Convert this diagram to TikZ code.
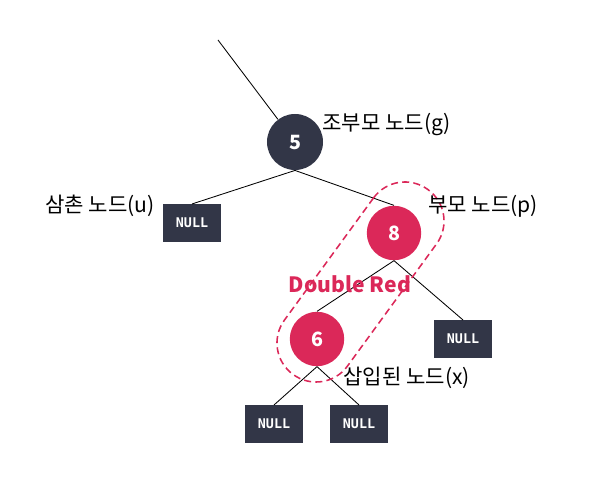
\documentclass[tikz,border=0pt]{standalone}
\usepackage{fontspec}
\setmainfont{Noto Sans CJK KR}
\newfontfamily\leaffont{DejaVu Sans Mono}
\usetikzlibrary{positioning}
\definecolor{navy}{HTML}{323647}
\definecolor{crimson}{HTML}{DB2859}
\tikzstyle{black node}=[circle, fill=navy, text=white, minimum size=1.4cm, inner sep=0pt, font=\bfseries\fontsize{14}{14}\selectfont]
\tikzstyle{red node}=[circle, fill=crimson, text=white, minimum size=1.36cm, inner sep=0pt, font=\bfseries\fontsize{14}{14}\selectfont]
\tikzstyle{null leaf}=[fill=navy, text=white, minimum width=1.46cm, minimum height=0.93cm, inner sep=0pt, font=\leaffont\bfseries\fontsize{9.5}{9.5}\selectfont]
\tikzstyle{label}=[font=\fontsize{15}{16}\selectfont, inner sep=0pt]

\begin{document}
\begin{tikzpicture}[x=0.025cm, y=-0.025cm, line width=0.6pt]
\useasboundingbox (0,0) rectangle (591,497);
% nodes
\node[black node] (g) at (295,142) {5};
\node[red node] (p) at (394,233) {8};
\node[red node] (x) at (317,339) {6};
\node[null leaf] (u) at (192,223) {NULL};
\node[null leaf] (pr) at (463,339) {NULL};
\node[null leaf] (xl) at (274,424) {NULL};
\node[null leaf] (xr) at (359,424) {NULL};
\coordinate (top) at (218,40);
% edges
\draw (top) -- (g);
\foreach \a/\b in {g/u, g/p, p/x, p/pr, x/xl, x/xr}
\draw (\a.south) -- (\b.north);
% double red
\node[draw=crimson, line width=1.1pt, dash pattern=on 5pt off 3pt, rounded corners=0.97cm, rotate=53.9, minimum width=5.72cm, minimum height=1.95cm] (dr) at (360.5,282) {};
\node[font=\bfseries\fontsize{15}{16}\selectfont, text=crimson, inner sep=0pt] (dbl) at (350,284) {Double Red};
% labels
\node[label, anchor=west] (lg) at (322,125) {조부모 노드(g)};
\node[label, anchor=east] (lu) at (155,206) {삼촌 노드(u)};
\node[label, anchor=west] (lp) at (428,206) {부모 노드(p)};
\node[label, anchor=west] (lx) at (343,378) {삽입된 노드(x)};
\end{tikzpicture}
\end{document}
